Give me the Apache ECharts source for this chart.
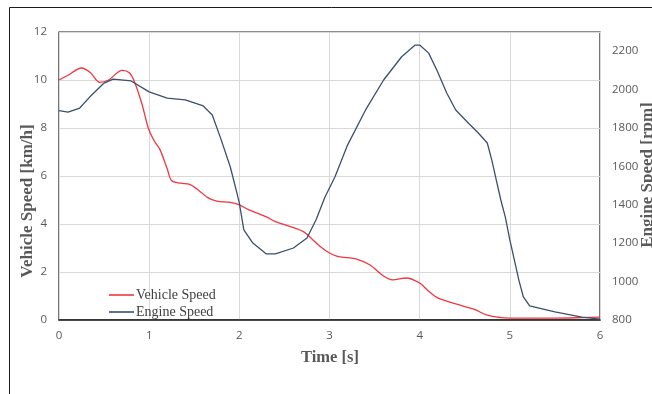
<!DOCTYPE html>
<html>
<head>
<meta charset="utf-8">
<script src="https://cdn.jsdelivr.net/npm/echarts@6/dist/echarts.min.js"></script>
<style>
  html, body { margin: 0; padding: 0; background: #fff; }
  #chart-container { width: 652px; height: 394px; }
</style>
</head>
<body>
<div id="chart-container"></div>
<script>
// Vehicle speed (km/h)
const vehicleTime  = [0, 0.1, 0.25, 0.35, 0.45, 0.55, 0.7, 0.78, 0.84, 0.92, 0.99, 1.05, 1.12, 1.2, 1.25, 1.35, 1.45, 1.55, 1.65, 1.75, 1.9, 2.0, 2.1, 2.2, 2.3, 2.4, 2.56, 2.71, 2.8, 2.9, 3.0, 3.1, 3.3, 3.45, 3.6, 3.7, 3.85, 4.0, 4.1, 4.2, 4.4, 4.6, 4.75, 4.9, 5.0, 5.5, 5.8, 6.0];
const vehicleSpeed = [10.0, 10.2, 10.5, 10.3, 9.9, 10.0, 10.4, 10.3, 9.9, 9.0, 8.0, 7.5, 7.1, 6.3, 5.8, 5.7, 5.65, 5.4, 5.1, 4.95, 4.9, 4.8, 4.6, 4.45, 4.3, 4.1, 3.9, 3.68, 3.4, 3.05, 2.79, 2.64, 2.54, 2.29, 1.83, 1.67, 1.75, 1.54, 1.2, 0.92, 0.67, 0.45, 0.2, 0.1, 0.08, 0.08, 0.1, 0.12];

// Engine speed (rpm)
const engineTime  = [0, 0.1, 0.23, 0.34, 0.5, 0.6, 0.8, 1.0, 1.2, 1.4, 1.6, 1.7, 1.8, 1.9, 1.97, 2.0, 2.05, 2.15, 2.3, 2.4, 2.6, 2.75, 2.85, 2.95, 3.06, 3.2, 3.4, 3.6, 3.8, 3.95, 4.0, 4.1, 4.2, 4.3, 4.4, 4.55, 4.65, 4.75, 4.8, 4.85, 4.9, 4.95, 5.0, 5.05, 5.1, 5.15, 5.22, 5.5, 5.8, 6.0];
const engineSpeed = [1890, 1883, 1904, 1961, 2034, 2055, 2045, 1988, 1956, 1946, 1915, 1868, 1737, 1597, 1467, 1409, 1269, 1201, 1144, 1144, 1175, 1227, 1321, 1441, 1545, 1711, 1894, 2050, 2171, 2232, 2232, 2190, 2092, 1982, 1894, 1821, 1774, 1722, 1633, 1529, 1425, 1336, 1217, 1113, 1008, 920, 873, 842, 815, 805];

const timeTicks = [0, 1, 2, 3, 4, 5, 6];

const zip = (xs, ys) => xs.map((x, i) => [x, ys[i]]);

var myChart = echarts.init(document.getElementById('chart-container'));

var serif = '"Liberation Serif", "DejaVu Serif", serif';
var sans = '"Open Sans", "Liberation Sans", sans-serif';

var option = {
    animation: false,
    backgroundColor: '#fff',
    grid: {
        left: 59, right: 52, top: 32, bottom: 74,
        show: true, borderColor: '#1a1a1a', borderWidth: 1.2
    },
    legend: {
        orient: 'vertical',
        left: 104, top: 283,
        itemWidth: 25, itemHeight: 1.6, itemGap: 3,
        icon: 'rect',
        textStyle: { fontFamily: serif, fontSize: 14, color: '#404040', padding: [0, 0, 0, -3] },
        data: ['Vehicle Speed', 'Engine Speed']
    },
    xAxis: {
        type: 'value', min: 0, max: 6, interval: 1,
        axisLine: { show: true, lineStyle: { color: '#1a1a1a', width: 1.5 } },
        axisTick: { show: false },
        axisLabel: { color: '#595959', fontFamily: sans, fontSize: 11.5, margin: 10,
            formatter: v => timeTicks.includes(v) ? String(v) : '' },
        splitLine: { show: true, lineStyle: { color: '#d9d9d9', width: 1 } }
    },
    yAxis: [
        {
            type: 'value', min: 0, max: 12, interval: 2,
            axisLine: { show: false },
            axisTick: { show: false },
            axisLabel: { color: '#595959', fontFamily: sans, fontSize: 11.5, margin: 12 },
            splitLine: { show: true, lineStyle: { color: '#d9d9d9', width: 1 } }
        },
        {
            type: 'value', min: 800, max: 2300, interval: 200,
            position: 'right',
            axisLine: { show: false },
            axisTick: { show: false },
            axisLabel: { color: '#595959', fontFamily: sans, fontSize: 11.5, margin: 12,
                showMaxLabel: false, formatter: v => String(v) },
            splitLine: { show: false }
        }
    ],
    graphic: [
        { type: 'rect', left: 7, top: 5, shape: { width: 700, height: 450 },
          style: { fill: 'none', stroke: '#1a1a1a', lineWidth: 1 }, silent: true, z: -1 },
        { type: 'text', x: 28, y: 201, rotation: Math.PI / 2,
          style: { text: 'Vehicle Speed [km/h]', font: 'bold 17px ' + serif, fill: '#595959',
                   align: 'center', verticalAlign: 'middle' } },
        { type: 'text', x: 648, y: 175, rotation: Math.PI / 2,
          style: { text: 'Engine Speed [rpm]', font: 'bold 17px ' + serif, fill: '#595959',
                   align: 'center', verticalAlign: 'middle' } },
        { type: 'text', x: 330, y: 358,
          style: { text: 'Time [s]', font: 'bold 16.5px ' + serif, fill: '#595959',
                   align: 'center', verticalAlign: 'middle' } }
    ],
    series: [
        {
            name: 'Vehicle Speed', type: 'line', yAxisIndex: 0,
            data: zip(vehicleTime, vehicleSpeed),
            showSymbol: false, smooth: 0.3,
            lineStyle: { color: '#f0363f', width: 1.3 },
            itemStyle: { color: '#f0363f' }
        },
        {
            name: 'Engine Speed', type: 'line', yAxisIndex: 1,
            data: zip(engineTime, engineSpeed),
            showSymbol: false,
            lineStyle: { color: '#3c4f6e', width: 1.3 },
            itemStyle: { color: '#3c4f6e' }
        }
    ]
};

myChart.setOption(option);
</script>
</body>
</html>
